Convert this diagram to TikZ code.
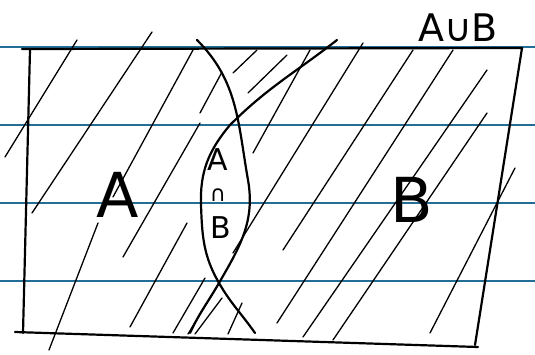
\documentclass[tikz,border=0pt]{standalone}
\usepackage{fontspec}
\setmainfont{DejaVu Sans}
\usetikzlibrary{positioning,calc}
\definecolor{ruleblue}{RGB}{35,110,150}
\tikzset{
  ruled/.style={draw=ruleblue, line width=1.8pt},
  pen/.style={draw=black, line width=2.2pt, line cap=round, line join=round},
  hatch/.style={draw=black, line width=1.3pt, line cap=round},
  letter/.style={font=\fontsize{62}{62}\selectfont, inner sep=0pt},
  smallletter/.style={font=\fontsize{30}{30}\selectfont, inner sep=0pt}
}
\begin{document}
\begin{tikzpicture}[x=1pt,y=-1pt]
    \useasboundingbox (0,0) rectangle (535,354);
    \fill[white] (0,0) rectangle (535,354);

    % paper rules
    \foreach \yy in {47,125,203,281}
        \draw[ruled] (0,\yy) -- (535,\yy);

    % hatching
    \foreach \xa/\ya/\xb/\yb in {5/157/77/40, 32/213/152/32, 49/350/98/223,
        113/197/193/50, 123/257/200/123, 130/327/187/223,
        173/333/205/278, 188/334/218/285, 195/334/222/298, 228/334/242/303,
        200/113/222/72, 233/73/257/50, 248/93/287/55,
        253/153/310/50, 233/253/363/43, 283/250/413/50, 277/323/453/50,
        303/337/487/70, 333/340/487/113, 430/333/515/168}
        \draw[hatch] (\xa,\ya) -- (\xb,\yb);

    % universe box
    \coordinate (tl) at (22,49);
    \coordinate (tr) at (522,48);
    \coordinate (br) at (475,345);
    \coordinate (bl) at (15,332);
    \draw[pen] (tl) -- (tr) -- (br);
    \draw[pen] (bl) -- (478,347);
    \draw[pen] (30,50) -- (23,333);

    % set boundaries
    \coordinate (atop) at (197,40);
    \coordinate (abot) at (190,333);
    \coordinate (btop) at (337,40);
    \coordinate (bbot) at (255,333);
    \coordinate (cross) at (219,283);
    \draw[pen] (atop) to[out=-45,in=100] (248,180)
        to[out=-80,in=60] (cross) to[out=-120,in=65] (abot);
    \draw[pen] (btop) to[out=-142,in=45] (230,125)
        to[out=-130,in=92] (201,205) to[out=-88,in=120] (cross)
        to[out=-60,in=125] (bbot);

    % labels
    \node[letter] (lblA) at (118,195) {A};
    \node[letter] (lblB) at (412,200) {B};
    \node[smallletter] (capA) at (218,160) {A};
    \node[font=\fontsize{22}{22}\selectfont, inner sep=0pt] (capOp) at (218,195) {∩};
    \node[smallletter] (capB) at (221,228) {B};
    \node[font=\fontsize{38}{38}\selectfont, inner sep=0pt] (cupAB) at (458,28) {A∪B};
\end{tikzpicture}
\end{document}
